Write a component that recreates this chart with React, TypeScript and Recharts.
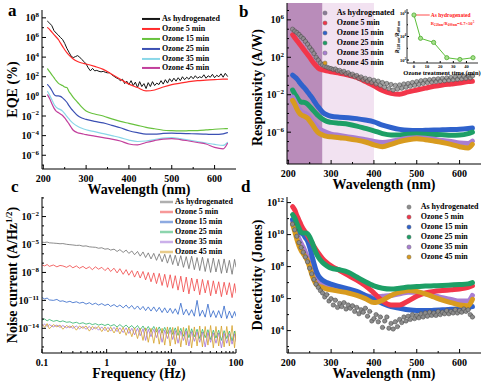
import React from "react";
import { LineChart, Line, XAxis, YAxis, ReferenceArea, ReferenceLine } from "recharts";

const FONT = "'Liberation Serif', 'Times New Roman', Times, serif";

// ---- shared x grids ----
const nmGrid = [210, 215, 220, 225, 230, 235, 240, 245, 250, 255, 260, 265, 270, 280, 290, 300, 320, 340, 360, 380, 400, 420, 440, 460, 480, 500, 520, 540, 560, 580, 600, 620, 630];
const nmFine = [210, 215, 220, 225, 230, 235, 240, 245, 250, 255, 260, 265, 270, 275, 280, 285, 290, 295, 300, 305, 310, 315, 320, 325, 330, 335, 340, 345, 350, 355, 360, 365, 370, 375, 380, 385, 390, 395, 400, 405, 410, 415, 420, 425, 430, 435, 440, 445, 450, 455, 460, 465, 470, 475, 480, 485, 490, 495, 500, 505, 510, 515, 520, 525, 530, 535, 540, 545, 550, 555, 560, 565, 570, 575, 580, 585, 590, 595, 600, 605, 610, 615, 620, 625, 630];
const freqHz = [0.1, 0.11, 0.12, 0.13, 0.15, 0.17, 0.19, 0.21, 0.24, 0.27, 0.3, 0.34, 0.38, 0.43, 0.48, 0.54, 0.6, 0.67, 0.75, 0.84, 0.94, 1.05, 1.15, 1.3, 1.45, 1.6, 1.8, 2.0, 2.2, 2.45, 2.7, 3.0, 3.3, 3.65, 4.0, 4.4, 4.85, 5.35, 5.9, 6.5, 7.2, 7.9, 8.7, 9.6, 10.5, 11.5, 12.7, 14, 15.4, 17, 18.7, 20.6, 22.7, 25, 27.5, 30.3, 33.4, 36.8, 40.5, 44.6, 49, 54, 59.5, 65.5, 72, 79, 87, 95, 100];

// ---- a: EQE (%), log10 ----
const eqeAsHyd = [7.65, 7.45, 7.2, 6.7, 6.45, 6.25, 6.0, 5.8, 5.4, 4.9, 4.5, 4.1, 3.95, 4.05, 4.15, 4.0, 3.75, 3.55, 3.3, 2.9, 2.6, 2.85, 2.6, 2.65, 2.55, 2.5, 2.55, 2.45, 2.4, 2.4, 2.2, 2.05, 1.9, 1.8, 1.6, 1.75, 1.3, 1.55, 1.2, 1.6, 1.1, 1.45, 0.9, 1.5, 1.0, 1.3, 0.8, 1.4, 1.0, 1.5, 1.1, 1.35, 1.2, 1.6, 1.25, 1.7, 1.35, 1.8, 1.5, 1.85, 1.55, 1.9, 1.6, 2.0, 1.7, 1.95, 1.75, 2.05, 1.8, 2.1, 1.85, 2.0, 1.9, 2.2, 1.85, 2.1, 1.95, 2.25, 1.9, 2.15, 2.0, 2.3, 1.95, 2.35, 2.05];
const eqeOz5 = [7.0, 6.8, 6.55, 6.3, 6.05, 5.8, 5.45, 5.1, 4.75, 4.45, 4.2, 4.0, 3.8, 3.55, 3.4, 3.3, 3.05, 2.75, 2.25, 1.75, 1.25, 0.9, 0.55, 0.65, 0.95, 1.2, 1.35, 1.5, 1.6, 1.65, 1.7, 1.75, 1.75];
const eqeOz15 = [2.8, 2.5, 2.2, 1.9, 1.6, 1.35, 1.2, 1.1, 0.95, 0.9, 0.5, 0.2, -0.1, -0.6, -1.1, -1.5, -1.8, -2.0, -2.3, -2.55, -2.75, -2.95, -3.15, -3.3, -3.45, -3.5, -3.52, -3.5, -3.48, -3.42, -3.35, -3.3, -3.28];
const eqeOz25 = [1.2, 0.95, 0.6, 0.2, 0.05, 0.05, 0.0, -0.15, -0.35, -0.6, -0.95, -1.25, -1.5, -1.95, -2.2, -2.35, -2.55, -2.7, -2.95, -3.2, -3.5, -3.7, -3.85, -3.85, -3.78, -3.75, -3.78, -3.8, -3.82, -3.85, -3.88, -3.82, -3.7];
const eqeOz35 = [0.5, 0.1, -0.35, -0.8, -1.1, -1.25, -1.35, -1.5, -1.75, -2.05, -2.3, -2.55, -2.75, -3.05, -3.25, -3.4, -3.6, -3.8, -4.0, -4.2, -4.45, -4.6, -4.55, -4.4, -4.25, -4.2, -4.3, -4.45, -4.6, -4.75, -4.9, -5.0, -4.7];
const eqeOz45 = [0.15, -0.25, -0.75, -1.2, -1.5, -1.65, -1.8, -1.95, -2.2, -2.5, -2.8, -3.15, -3.45, -3.7, -3.8, -3.9, -4.05, -4.2, -4.35, -4.55, -4.85, -4.95, -4.7, -4.5, -4.35, -4.3, -4.4, -4.55, -4.7, -4.85, -5.2, -5.35, -4.8];

// ---- b: responsivity (A/W), log10 ----
const respAsHyd = [5.0, 4.8, 4.65, 4.45, 4.2, 4.0, 3.7, 3.4, 3.05, 2.75, 2.4, 2.0, 1.7, 1.4, 1.2, 1.05, 0.95, 0.85, 0.8, 0.7, 0.75, 0.55, 0.6, 0.4, 0.5, 0.25, 0.35, 0.1, 0.2, -0.05, 0.05, -0.25, -0.1, -0.4, -0.25, -0.55, -0.35, -0.7, -0.45, -0.85, -0.55, -1.0, -0.7, -1.2, -0.8, -1.35, -0.9, -1.5, -1.0, -1.4, -0.95, -1.3, -0.85, -1.2, -0.8, -1.1, -0.7, -1.0, -0.6, -0.9, -0.5, -0.8, -0.45, -0.7, -0.4, -0.65, -0.35, -0.6, -0.3, -0.55, -0.25, -0.5, -0.2, -0.45, -0.15, -0.4, -0.1, -0.35, -0.05, -0.3, -0.05, -0.25, 0.0, -0.2, 0.0];
const respOz5 = [4.4, 4.1, 3.8, 3.5, 3.2, 2.9, 2.6, 2.3, 2.0, 1.65, 1.35, 1.1, 0.85, 0.65, 0.55, 0.45, 0.3, 0.1, -0.15, -0.6, -1.05, -1.55, -1.85, -1.95, -1.7, -1.5, -1.3, -1.1, -0.95, -0.85, -0.75, -0.6, -0.55];
const respOz15 = [0.1, -0.1, -0.3, -0.6, -0.9, -1.15, -1.4, -1.7, -2.0, -2.3, -2.65, -3.0, -3.3, -3.85, -4.15, -4.3, -4.4, -4.45, -4.55, -4.7, -4.9, -5.25, -5.5, -5.7, -5.8, -5.82, -5.8, -5.78, -5.75, -5.72, -5.68, -5.6, -5.55];
const respOz25 = [-1.5, -1.9, -2.25, -2.6, -2.8, -2.8, -2.85, -3.0, -3.25, -3.5, -3.75, -4.0, -4.25, -4.6, -4.85, -4.95, -5.05, -5.15, -5.35, -5.6, -5.85, -6.15, -6.3, -6.3, -6.22, -6.2, -6.22, -6.25, -6.28, -6.32, -6.3, -6.15, -6.0];
const respOz35 = [-2.25, -2.65, -3.1, -3.5, -3.75, -3.9, -4.0, -4.15, -4.4, -4.7, -5.0, -5.3, -5.55, -5.85, -6.05, -6.2, -6.35, -6.5, -6.65, -6.8, -7.0, -7.1, -7.0, -6.8, -6.65, -6.6, -6.65, -6.75, -6.9, -7.0, -7.15, -7.2, -6.95];
const respOz45 = [-2.6, -3.0, -3.5, -3.9, -4.15, -4.25, -4.35, -4.5, -4.8, -5.1, -5.45, -5.8, -6.05, -6.3, -6.45, -6.5, -6.6, -6.7, -6.85, -7.05, -7.35, -7.55, -7.3, -7.0, -6.8, -6.7, -6.8, -6.95, -7.1, -7.3, -7.55, -7.7, -7.3];

// inset: R228/R400 ratio (log10) vs ozone time (min)
const ozoneMin = [0, 5, 15, 25, 35, 45];
const ratioLog = [5.83, 3.85, 3.5, 2.2, 2.05, 2.2];

// ---- c: noise current (A/Hz^1/2), log10 ----
const noiseAsHyd = [-4.75, -4.78, -4.74, -4.82, -4.85, -4.88, -4.92, -4.9, -4.98, -5.02, -5.05, -5.1, -5.08, -5.18, -5.15, -5.25, -5.28, -5.3, -5.4, -5.35, -5.5, -5.45, -5.6, -5.5, -5.75, -5.55, -5.85, -5.6, -5.95, -5.7, -6.1, -5.75, -6.25, -5.8, -6.4, -5.9, -6.55, -5.95, -6.7, -6.0, -6.85, -6.05, -7.0, -6.1, -7.15, -6.15, -7.3, -6.2, -7.45, -6.3, -7.6, -6.25, -7.7, -6.4, -7.8, -6.35, -7.9, -6.5, -8.0, -6.45, -7.95, -6.6, -8.1, -6.55, -8.05, -6.7, -8.2, -6.6, -7.4];
const noiseOz5 = [-7.2, -7.3, -7.15, -7.35, -7.2, -7.4, -7.25, -7.3, -7.45, -7.25, -7.5, -7.3, -7.55, -7.35, -7.6, -7.4, -7.7, -7.4, -7.65, -7.45, -7.8, -7.5, -7.9, -7.55, -8.05, -7.6, -8.2, -7.7, -8.3, -7.8, -8.5, -7.85, -8.6, -7.9, -8.8, -8.0, -9.0, -8.05, -9.2, -8.1, -9.4, -8.2, -9.6, -8.25, -9.7, -8.35, -9.9, -8.4, -10.1, -8.5, -10.3, -8.6, -10.0, -8.7, -10.4, -8.75, -10.2, -8.85, -10.5, -8.9, -10.3, -9.0, -10.6, -9.05, -10.4, -9.1, -10.7, -9.2, -10.2];
const noiseOz15 = [-10.7, -10.85, -10.75, -10.95, -11.0, -10.9, -11.1, -11.05, -11.2, -11.1, -11.25, -11.15, -11.3, -11.2, -11.4, -11.25, -11.45, -11.3, -11.5, -11.35, -11.55, -11.4, -11.65, -11.45, -11.7, -11.5, -11.8, -11.5, -11.85, -11.55, -11.95, -11.6, -12.0, -11.65, -12.1, -11.7, -12.15, -11.7, -12.2, -11.75, -12.3, -11.8, -12.35, -11.85, -12.4, -11.9, -12.5, -11.3, -12.55, -11.95, -12.6, -12.0, -12.7, -11.0, -12.7, -12.05, -12.8, -11.4, -12.8, -12.1, -12.85, -12.1, -12.9, -11.6, -12.95, -12.15, -12.9, -12.2, -12.7];
const noiseOz25 = [-13.1, -13.0, -13.2, -13.05, -13.25, -13.15, -13.3, -13.2, -13.35, -13.3, -13.45, -13.35, -13.5, -13.4, -13.55, -13.45, -13.6, -13.5, -13.65, -13.55, -13.7, -13.55, -13.75, -13.6, -13.85, -13.6, -13.9, -13.65, -13.95, -13.7, -14.05, -13.7, -14.15, -13.75, -14.25, -13.8, -14.35, -13.8, -14.4, -13.85, -14.5, -13.9, -14.55, -13.9, -14.65, -13.95, -14.75, -14.0, -14.85, -14.0, -15.0, -14.05, -14.9, -14.1, -15.1, -14.1, -15.0, -14.15, -15.2, -14.2, -15.05, -14.2, -15.3, -14.25, -15.1, -14.3, -15.35, -14.3, -15.0];
const noiseOz35 = [-13.75, -13.55, -13.8, -13.6, -13.85, -13.65, -13.9, -13.7, -13.95, -13.75, -14.0, -13.75, -14.05, -13.8, -14.1, -13.8, -14.15, -13.85, -14.2, -13.85, -14.25, -13.9, -14.3, -13.9, -14.35, -13.95, -14.45, -13.95, -14.55, -14.0, -14.7, -14.0, -14.8, -14.05, -15.3, -14.1, -14.9, -14.1, -15.0, -14.15, -15.5, -14.2, -15.1, -14.2, -15.2, -14.25, -15.6, -14.3, -15.3, -14.3, -15.9, -14.35, -15.4, -14.4, -15.5, -14.4, -16.0, -14.45, -15.5, -14.5, -15.6, -14.5, -16.1, -14.55, -15.6, -14.6, -15.7, -14.6, -15.4];
const noiseOz45 = [-13.55, -13.9, -13.5, -14.05, -13.6, -13.85, -13.65, -14.1, -13.7, -13.95, -13.7, -14.2, -13.75, -14.0, -13.75, -14.3, -13.8, -14.05, -13.8, -14.35, -13.85, -14.4, -13.85, -14.5, -13.9, -14.6, -13.9, -14.75, -13.95, -14.9, -13.95, -15.1, -14.0, -15.3, -13.95, -15.5, -14.0, -15.6, -13.9, -15.7, -14.0, -15.8, -13.85, -15.9, -13.9, -15.7, -13.8, -16.0, -13.9, -15.8, -13.7, -16.1, -13.85, -15.9, -13.75, -16.0, -13.8, -15.8, -13.7, -16.1, -13.8, -15.9, -13.75, -16.0, -13.8, -15.9, -13.7, -16.1, -14.3];

// ---- d: detectivity (Jones), log10 ----
const detAsHyd = [10.65, 10.3, 9.9, 9.5, 9.2, 8.9, 8.6, 8.3, 7.9, 7.55, 7.2, 6.9, 6.7, 6.5, 6.35, 6.1, 6.25, 5.85, 6.0, 5.6, 5.9, 5.45, 5.7, 5.5, 5.75, 5.35, 5.6, 5.4, 5.55, 5.2, 5.45, 5.05, 5.3, 5.15, 5.4, 4.9, 5.2, 4.6, 4.75, 5.0, 4.55, 4.85, 4.2, 4.6, 4.85, 4.15, 4.45, 4.1, 4.55, 4.25, 4.7, 4.5, 4.85, 4.6, 4.9, 4.7, 5.0, 4.75, 4.95, 4.8, 5.05, 4.85, 5.1, 4.9, 5.15, 4.95, 5.1, 4.95, 5.2, 5.0, 5.15, 5.05, 5.25, 5.05, 5.2, 5.1, 5.3, 5.1, 5.25, 5.15, 5.35, 5.2, 5.3, 5.0, 4.85];
const detOz5 = [11.75, 11.55, 11.2, 10.9, 10.6, 10.35, 10.15, 9.95, 9.7, 9.5, 9.25, 9.05, 8.85, 8.5, 8.25, 8.05, 7.75, 7.45, 7.15, 6.8, 6.35, 5.85, 5.6, 5.6, 5.85, 6.15, 6.35, 6.45, 6.5, 6.55, 6.6, 6.7, 6.8];
const detOz15 = [10.95, 10.7, 10.45, 10.2, 10.1, 10.0, 9.8, 9.6, 9.2, 8.7, 8.2, 7.75, 7.45, 7.15, 7.0, 6.9, 6.75, 6.6, 6.45, 6.2, 5.95, 5.7, 5.5, 5.4, 5.3, 5.25, 5.25, 5.27, 5.3, 5.33, 5.37, 5.45, 5.5];
const detOz25 = [11.25, 11.05, 10.7, 10.4, 10.15, 10.1, 10.1, 10.05, 9.85, 9.55, 9.2, 8.85, 8.6, 8.25, 8.05, 7.9, 7.8, 7.65, 7.35, 7.05, 6.8, 6.65, 6.6, 6.65, 6.72, 6.75, 6.78, 6.8, 6.82, 6.85, 6.88, 6.92, 7.0];
const detOz35 = [10.85, 10.5, 10.1, 9.75, 9.45, 9.2, 8.9, 8.6, 8.2, 7.85, 7.55, 7.3, 7.15, 6.95, 6.85, 6.75, 6.65, 6.5, 6.35, 6.2, 6.1, 6.15, 6.2, 6.3, 6.4, 6.4, 6.3, 6.2, 6.05, 5.95, 5.85, 5.85, 6.2];
const detOz45 = [10.65, 10.2, 9.7, 9.3, 9.0, 8.8, 8.6, 8.35, 7.95, 7.5, 7.15, 6.9, 6.8, 6.7, 6.6, 6.55, 6.45, 6.35, 6.2, 6.0, 5.75, 5.9, 6.2, 6.4, 6.5, 6.45, 6.3, 6.1, 5.9, 5.75, 5.6, 5.55, 5.95];

// ---- tick lists ----
const nmTicks = [200, 250, 300, 350, 400, 450, 500, 550, 600];
const nmMajors = [200, 300, 400, 500, 600];
const eqeTicks = [-7, -6, -5, -4, -3, -2, -1, 0, 1, 2, 3, 4, 5, 6, 7, 8];
const eqeMajors = [-6, -4, -2, 0, 2, 4, 6, 8];
const respTicks = [-9, -8, -7, -6, -5, -4, -3, -2, -1, 0, 1, 2, 3, 4, 5, 6, 7];
const respMajors = [-6, -2, 2, 6];
const freqTicks = [0.1, 0.2, 0.3, 0.4, 0.5, 0.6, 0.7, 0.8, 0.9, 1, 2, 3, 4, 5, 6, 7, 8, 9, 10, 20, 30, 40, 50, 60, 70, 80, 90, 100];
const freqMajors = [0.1, 1, 10, 100];
const noiseTicks = [-16, -15, -14, -13, -12, -11, -10, -9, -8, -7, -6, -5, -4, -3, -2, -1, 0];
const noiseMajors = [-14, -11, -8, -5, -2];
const detTicks = [3, 4, 5, 6, 7, 8, 9, 10, 11, 12];
const detMajors = [4, 6, 8, 10, 12];
const insetXTicks = [0, 10, 20, 30, 40];
const insetYTicks = [2, 3, 4, 5, 6];
const insetYMajors = [2, 4, 6];

const NAMES = ["As hydrogenated", "Ozone 5 min", "Ozone 15 min", "Ozone 25 min", "Ozone 35 min", "Ozone 45 min"];
const COLORS_A = ["#151515", "#ff2b2b", "#68c23e", "#3b50b3", "#8ad7e8", "#c23f9c"];
const COLORS_B = ["#8c8c8c", "#f2364a", "#2f62cc", "#1d9f66", "#a87ed2", "#d89b1f"];
const COLORS_C = ["#6e6e6e", "#f04444", "#2f64c8", "#2db36a", "#a070d8", "#d5a12a"];

type Pt = { x: number; y: number };
const pts = (xs: number[], ys: number[]): Pt[] => xs.map((x, i) => ({ x, y: ys[i] }));

const isIn = (list: number[], v: number) =>
  list.some((m) => Math.abs(m - v) <= 1e-6 * Math.max(1, Math.abs(m)));

const pow10 = (base: number, sup: number, lift: number) => (v: number) => (
  <>
    <tspan fontSize={base}>10</tspan>
    <tspan fontSize={sup} dy={-lift}>{v < 0 ? `\u2212${-v}` : `${v}`}</tspan>
  </>
);

type Side = "bottom" | "top" | "left" | "right";
type TickOpts = { majors: number[]; fmt?: (v: number) => React.ReactNode; major?: number; minor?: number; size?: number; gap?: number };

function makeTick(side: Side, o: TickOpts) {
  const major = o.major ?? 4;
  const minor = o.minor ?? 2;
  const size = o.size ?? 10;
  const gap = o.gap ?? 12.5;
  return (props: any) => {
    const { x, y, payload } = props;
    const v = payload.value as number;
    const big = isIn(o.majors, v);
    const len = big ? major : minor;
    const label = big && o.fmt ? o.fmt(v) : null;
    const ts = { fontFamily: FONT, fontWeight: 700, fontSize: size, fill: "#000" };
    let tick: React.ReactNode;
    let text: React.ReactNode = null;
    if (side === "bottom") {
      tick = <line x1={x} x2={x} y1={y} y2={y - len} stroke="#000" />;
      if (label) text = <text x={x} y={y + gap} textAnchor="middle" style={ts}>{label}</text>;
    } else if (side === "top") {
      tick = <line x1={x} x2={x} y1={y} y2={y + len} stroke="#000" />;
    } else if (side === "left") {
      tick = <line x1={x} x2={x + len} y1={y} y2={y} stroke="#000" />;
      if (label) text = <text x={x - gap} y={y + size * 0.36} textAnchor="end" style={ts}>{label}</text>;
    } else {
      tick = <line x1={x} x2={x - len} y1={y} y2={y} stroke="#000" />;
    }
    return <g>{tick}{text}</g>;
  };
}

type Entry = { name: string; color: string };
type LegendSpec = {
  entries: Entry[]; marker: "line" | "dot"; left: number; top: number; rowH: number; markW: number;
  lineLen?: number; lineW?: number; fade?: number;
};

function LegendRows({ entries, marker, left, top, rowH, markW, lineLen = 16, lineW = 1.5, fade = 1 }: LegendSpec) {
  return (
    <div style={{ position: "absolute", left, top, fontFamily: FONT, fontWeight: 700, fontSize: 8, color: "#000", whiteSpace: "nowrap" }}>
      {entries.map((e) => (
        <div key={e.name} style={{ display: "flex", alignItems: "center", height: rowH, lineHeight: `${rowH}px` }}>
          <svg width={markW} height={rowH} style={{ flex: "none", display: "block" }}>
            {marker === "line" ? (
              <line x1={0} x2={lineLen} y1={rowH / 2} y2={rowH / 2} stroke={e.color} strokeOpacity={fade} strokeWidth={lineW} />
            ) : (
              <circle cx={3} cy={rowH / 2} r={2.1} fill={e.color} stroke="#555" strokeWidth={0.4} />
            )}
          </svg>
          <span>{e.name}</span>
        </div>
      ))}
    </div>
  );
}

type Series = { key: string; color: string; data: Pt[]; width: number; curve?: "linear" | "monotone"; dots?: boolean; dotOpacity?: number };
type PanelProps = {
  left: number; top: number; width: number; height: number;
  box: [number, number, number, number];
  xDomain: [number, number]; yDomain: [number, number]; xLog?: boolean;
  xTicks: number[]; xMajors: number[]; xFmt: (v: number) => React.ReactNode;
  yTicks: number[]; yMajors: number[];
  xTitle: React.ReactNode; yTitle: React.ReactNode; yShift?: number;
  series: Series[];
  shades?: { x1: number; x2: number; fill: string }[];
  legend: LegendSpec;
};

const titleStyle = { fontFamily: FONT, fontWeight: 700, fontSize: 14, fill: "#000" };

function Panel(p: PanelProps) {
  const [bl, bt, br, bb] = p.box;
  const yMid = (bt + bb) / 2 + (p.yShift ?? 0);
  const xScale = p.xLog ? "log" : "auto";
  return (
    <div style={{ position: "absolute", left: p.left, top: p.top, width: p.width, height: p.height }}>
      <LineChart width={p.width} height={p.height} margin={{ top: bt, right: p.width - br, bottom: 0, left: 0 }}>
        {(p.shades ?? []).map((s) => (
          <ReferenceArea key={s.x1} x1={s.x1} x2={s.x2} fill={s.fill} fillOpacity={1} stroke="none" ifOverflow="hidden" />
        ))}
        <XAxis
          type="number" dataKey="x" scale={xScale} domain={p.xDomain} allowDataOverflow
          ticks={p.xTicks} interval={0} tickSize={0} tickMargin={0} tickLine={false}
          height={p.height - bb} axisLine={{ stroke: "#000" }}
          tick={makeTick("bottom", { majors: p.xMajors, fmt: p.xFmt })}
          label={() => <text x={(bl + br) / 2} y={bb + 25} textAnchor="middle" style={titleStyle}>{p.xTitle}</text>}
        />
        <XAxis
          xAxisId="top" orientation="top" type="number" dataKey="x" scale={xScale} domain={p.xDomain} allowDataOverflow
          ticks={p.xTicks} interval={0} tickSize={0} tickMargin={0} tickLine={false} height={0}
          axisLine={{ stroke: "#000" }} tick={makeTick("top", { majors: p.xMajors })}
        />
        <YAxis
          type="number" domain={p.yDomain} allowDataOverflow ticks={p.yTicks} interval={0}
          tickSize={0} tickMargin={0} tickLine={false} width={bl} axisLine={{ stroke: "#000" }}
          tick={makeTick("left", { majors: p.yMajors, fmt: pow10(10, 7, 4.2), gap: 3 })}
          label={() => (
            <text x={12.5} y={yMid} dy="0.35em" transform={`rotate(-90 12.5 ${yMid})`} textAnchor="middle" style={titleStyle}>
              {p.yTitle}
            </text>
          )}
        />
        <YAxis
          yAxisId="right" orientation="right" type="number" domain={p.yDomain} allowDataOverflow ticks={p.yTicks}
          interval={0} tickSize={0} tickMargin={0} tickLine={false} width={0}
          axisLine={{ stroke: "#000" }} tick={makeTick("right", { majors: p.yMajors })}
        />
        {p.series.map((s) => (
          <Line
            key={s.key} data={s.data} dataKey="y" type={s.curve ?? "monotone"}
            stroke={s.dots ? "none" : s.color} strokeWidth={s.width}
            strokeLinecap="round" strokeLinejoin="round"
            dot={s.dots ? { r: 2.2, fill: s.color, fillOpacity: s.dotOpacity ?? 1, stroke: "#4a4a4a", strokeWidth: 0.5 } : false}
            activeDot={false} isAnimationActive={false}
          />
        ))}
      </LineChart>
      <LegendRows {...p.legend} />
    </div>
  );
}

function Inset() {
  const data = pts(ozoneMin, ratioLog);
  const tiny = { fontFamily: FONT, fontWeight: 700, fill: "#000" };
  return (
    <div style={{ position: "absolute", left: 393, top: 0 }}>
      <LineChart width={97} height={80} margin={{ top: 9, right: 12, bottom: 0, left: 0 }}>
        <XAxis
          type="number" dataKey="x" domain={[-5.3, 48.8]} allowDataOverflow ticks={insetXTicks} interval={0}
          tickSize={0} tickMargin={0} tickLine={false} height={17} axisLine={{ stroke: "#000", strokeWidth: 0.8 }}
          tick={makeTick("bottom", { majors: insetXTicks, fmt: (v) => `${v}`, major: 2, minor: 1, size: 4.5, gap: 4.8 })}
          label={() => <text x={49} y={74.5} textAnchor="middle" style={{ ...tiny, fontSize: 6.5 }}>Ozone treatment time (min)</text>}
        />
        <XAxis
          xAxisId="top" orientation="top" type="number" domain={[-5.3, 48.8]} allowDataOverflow ticks={insetXTicks}
          interval={0} tickSize={0} tickMargin={0} tickLine={false} height={0} axisLine={{ stroke: "#000", strokeWidth: 0.8 }}
          tick={makeTick("top", { majors: insetXTicks, major: 2, minor: 1 })}
        />
        <YAxis
          type="number" domain={[1.75, 6.34]} allowDataOverflow ticks={insetYTicks} interval={0}
          tickSize={0} tickMargin={0} tickLine={false} width={14} axisLine={{ stroke: "#000", strokeWidth: 0.8 }}
          tick={makeTick("left", { majors: insetYMajors, fmt: pow10(4.5, 3.2, 1.8), major: 2, minor: 1, size: 4.5, gap: 1 })}
          label={() => (
            <text x={4.5} y={37} dy="0.35em" transform="rotate(-90 4.5 37)" textAnchor="middle" style={{ ...tiny, fontSize: 5.5, fontStyle: "italic" }}>
              R<tspan fontSize={3.8} dy={1}>228 nm</tspan>
              <tspan dy={-1}>/R</tspan>
              <tspan fontSize={3.8} dy={1}>400 nm</tspan>
            </text>
          )}
        />
        <YAxis
          yAxisId="right" orientation="right" type="number" domain={[1.75, 6.34]} allowDataOverflow ticks={insetYTicks}
          interval={0} tickSize={0} tickMargin={0} tickLine={false} width={0} axisLine={{ stroke: "#000", strokeWidth: 0.8 }}
          tick={makeTick("right", { majors: insetYMajors, major: 2, minor: 1 })}
        />
        <ReferenceLine
          segment={[{ x: 0, y: ratioLog[0] }, { x: 12, y: ratioLog[0] }]}
          stroke="#ff2020" strokeWidth={0.8}
          label={(props: any) => {
            const vb = props.viewBox ?? { x: 0, y: 0, width: 0 };
            const tx = vb.x + vb.width + 1;
            const red = { ...tiny, fill: "#ff2020" };
            return (
              <g>
                <text x={tx} y={vb.y + 2} style={{ ...red, fontSize: 5.5 }}>As hydrogenated</text>
                <text x={tx} y={vb.y + 9.5} style={{ ...red, fontSize: 4.6 }}>
                  R<tspan fontSize={3.2} dy={1}>228nm</tspan>
                  <tspan dy={-1}>/R</tspan>
                  <tspan fontSize={3.2} dy={1}>400nm</tspan>
                  <tspan dy={-1}>=6.7×10</tspan>
                  <tspan fontSize={3.2} dy={-2}>5</tspan>
                </text>
              </g>
            );
          }}
        />
        <Line
          data={data} dataKey="y" type="linear" stroke="#5cbf3a" strokeWidth={1}
          dot={{ r: 2.1, fill: "#a6e28c", stroke: "#4ea82e", strokeWidth: 0.8 }}
          activeDot={false} isAnimationActive={false}
        />
      </LineChart>
    </div>
  );
}

const entriesA = NAMES.map((n, i) => ({ name: n, color: COLORS_A[i] }));
const entriesB = NAMES.map((n, i) => ({ name: n, color: i === 0 ? "#8a7b98" : COLORS_B[i] }));
const entriesD = NAMES.map((n, i) => ({ name: n, color: COLORS_B[i] }));
const entriesC = NAMES.map((n, i) => ({ name: n, color: COLORS_C[i] }));

const letter = (ch: string, left: number, top: number) => (
  <div key={ch} style={{ position: "absolute", left, top, fontFamily: FONT, fontWeight: 700, fontSize: 17, lineHeight: "17px" }}>{ch}</div>
);

export default function App() {
  const a: Series[] = [
    { key: "a0", color: COLORS_A[0], data: pts(nmFine, eqeAsHyd), width: 1, curve: "linear" },
    { key: "a1", color: COLORS_A[1], data: pts(nmGrid, eqeOz5), width: 1.2 },
    { key: "a2", color: COLORS_A[2], data: pts(nmGrid, eqeOz15), width: 1.2 },
    { key: "a3", color: COLORS_A[3], data: pts(nmGrid, eqeOz25), width: 1.2 },
    { key: "a4", color: COLORS_A[4], data: pts(nmGrid, eqeOz35), width: 1.2 },
    { key: "a5", color: COLORS_A[5], data: pts(nmGrid, eqeOz45), width: 1.2 },
  ];
  const b: Series[] = [
    { key: "b1", color: COLORS_B[1], data: pts(nmGrid, respOz5), width: 5 },
    { key: "b0", color: COLORS_B[0], data: pts(nmFine, respAsHyd), width: 1, dots: true, dotOpacity: 0.8 },
    { key: "b2", color: COLORS_B[2], data: pts(nmGrid, respOz15), width: 5 },
    { key: "b3", color: COLORS_B[3], data: pts(nmGrid, respOz25), width: 5 },
    { key: "b4", color: COLORS_B[4], data: pts(nmGrid, respOz35), width: 5 },
    { key: "b5", color: COLORS_B[5], data: pts(nmGrid, respOz45), width: 5 },
  ];
  const c: Series[] = [
    { key: "c0", color: COLORS_C[0], data: pts(freqHz, noiseAsHyd), width: 0.8, curve: "linear" },
    { key: "c1", color: COLORS_C[1], data: pts(freqHz, noiseOz5), width: 0.8, curve: "linear" },
    { key: "c2", color: COLORS_C[2], data: pts(freqHz, noiseOz15), width: 0.8, curve: "linear" },
    { key: "c3", color: COLORS_C[3], data: pts(freqHz, noiseOz25), width: 0.8, curve: "linear" },
    { key: "c4", color: COLORS_C[4], data: pts(freqHz, noiseOz35), width: 0.8, curve: "linear" },
    { key: "c5", color: COLORS_C[5], data: pts(freqHz, noiseOz45), width: 0.8, curve: "linear" },
  ];
  const d: Series[] = [
    { key: "d0", color: COLORS_B[0], data: pts(nmFine, detAsHyd), width: 1, dots: true },
    { key: "d4", color: COLORS_B[4], data: pts(nmGrid, detOz35), width: 5 },
    { key: "d2", color: COLORS_B[2], data: pts(nmGrid, detOz15), width: 5 },
    { key: "d1", color: COLORS_B[1], data: pts(nmGrid, detOz5), width: 5 },
    { key: "d5", color: COLORS_B[5], data: pts(nmGrid, detOz45), width: 5 },
    { key: "d3", color: COLORS_B[3], data: pts(nmGrid, detOz25), width: 5 },
  ];
  const nmFmt = (v: number) => `${v}`;
  return (
    <div style={{ position: "absolute", left: 0, top: 0, width: 490, height: 387, background: "#fff", overflow: "hidden" }}>
      <Panel
        left={0} top={0} width={245} height={200} box={[42, 10, 236, 169]}
        xDomain={[197, 650]} yDomain={[-7.4, 8.8]}
        xTicks={nmTicks} xMajors={nmMajors} xFmt={nmFmt} yTicks={eqeTicks} yMajors={eqeMajors}
        xTitle="Wavelength (nm)" yTitle="EQE (%)" series={a}
        legend={{ entries: entriesA, marker: "line", left: 142, top: 14, rowH: 9.9, markW: 20, lineLen: 18, lineW: 2 }}
      />
      <Panel
        left={245} top={0} width={245} height={200} box={[42, 3, 236, 164]}
        xDomain={[197, 650]} yDomain={[-9.4, 7.8]}
        xTicks={nmTicks} xMajors={nmMajors} xFmt={nmFmt} yTicks={respTicks} yMajors={respMajors}
        xTitle="Wavelength (nm)" yTitle="Responsivity (A/W)" yShift={4} series={b}
        shades={[{ x1: 197, x2: 280, fill: "#b98cba" }, { x1: 280, x2: 400, fill: "#f2e2f1" }]}
        legend={{ entries: entriesB, marker: "dot", left: 77, top: 7.7, rowH: 10, markW: 14.7 }}
      />
      <Inset />
      <Panel
        left={0} top={185} width={245} height={202} box={[42, 12, 236, 168]}
        xDomain={[0.1, 100]} xLog yDomain={[-16.65, 0.1]}
        xTicks={freqTicks} xMajors={freqMajors} xFmt={(v) => `${v}`} yTicks={noiseTicks} yMajors={noiseMajors}
        xTitle="Frequency (Hz)"
        yTitle={<>Noise current (A/Hz<tspan fontSize={9} dy={-5}>1/2</tspan><tspan dy={5}>)</tspan></>}
        series={c}
        legend={{ entries: entriesC, marker: "line", left: 160, top: 11.7, rowH: 10, markW: 15, lineLen: 13, lineW: 2.5, fade: 0.55 }}
      />
      <Panel
        left={245} top={185} width={245} height={202} box={[42, 12, 236, 168]}
        xDomain={[197, 650]} yDomain={[2.6, 12.35]}
        xTicks={nmTicks} xMajors={nmMajors} xFmt={nmFmt} yTicks={detTicks} yMajors={detMajors}
        xTitle="Wavelength (nm)" yTitle="Detectivity (Jones)" series={d}
        legend={{ entries: entriesD, marker: "dot", left: 161.3, top: 16.6, rowH: 10.1, markW: 14.4 }}
      />
      {letter("a", 8, 2)}
      {letter("b", 239, 3)}
      {letter("c", 11, 178)}
      {letter("d", 241, 178)}
    </div>
  );
}
